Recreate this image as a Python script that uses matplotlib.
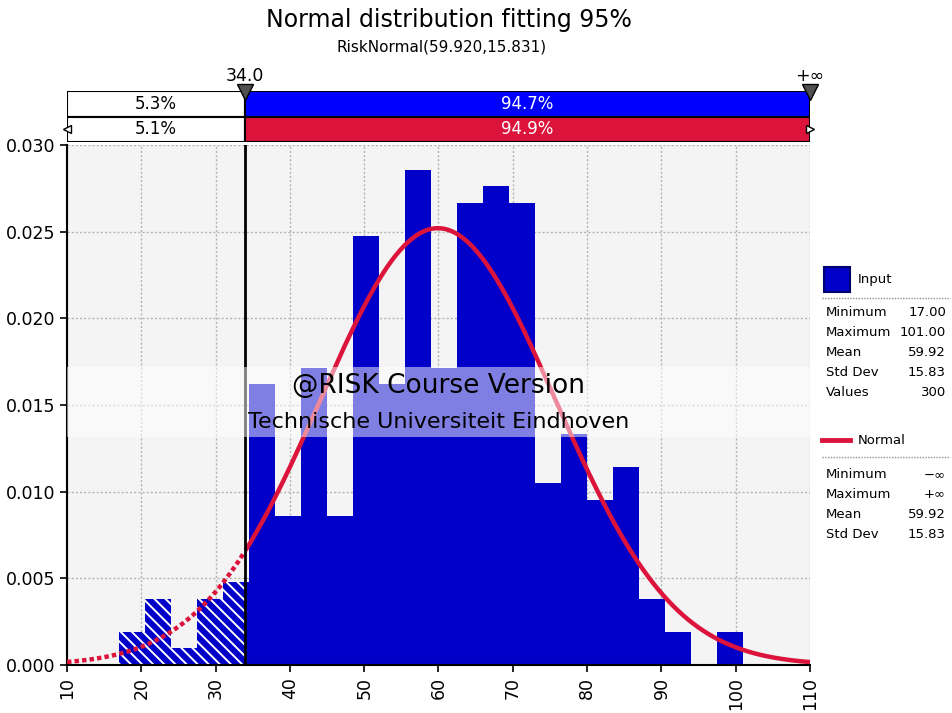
import math
import numpy as np
import matplotlib.pyplot as plt
from matplotlib.patches import Rectangle
from matplotlib.lines import Line2D

plt.rcParams['font.family'] = ['DejaVu Sans']
plt.rcParams['hatch.color'] = 'white'
plt.rcParams['hatch.linewidth'] = 1.4

# 300 input values, binned in steps of 3.5 from 17 to 101
bin_edges = np.arange(17.0, 101.0 + 0.01, 3.5)
counts = np.array([2, 4, 1, 4, 5, 17, 9, 18, 9, 26, 17, 30,
                   18, 28, 29, 28, 11, 14, 10, 12, 4, 2, 0, 2])

# fitted normal and input statistics
fit_mean = 59.920
fit_std = 15.831
input_mean = 59.92
input_std = 15.83
cutoff = 34.0

x_ticks = list(range(10, 111, 10))
y_ticks = [0.000, 0.005, 0.010, 0.015, 0.020, 0.025, 0.030]

W, H = 952, 713
BLUE = '#0000c8'
RED = '#dc143c'


def fx(px):
    return px / W


def fy(py):
    return 1 - py / H


total = counts.sum()
width = bin_edges[1] - bin_edges[0]
density = counts / (total * width)
left_input = counts[bin_edges[:-1] < cutoff].sum() / total
left_fit = 0.5 * (1 + math.erf((cutoff - fit_mean) / (fit_std * math.sqrt(2))))

fig = plt.figure(figsize=(W / 100, H / 100), dpi=100)
ax = fig.add_axes([fx(67), fy(665), fx(810) - fx(67), fy(145) - fy(665)])
ax.set_facecolor('#f4f4f4')

# histogram: hatched left of the cutoff, solid to the right
for lo, d in zip(bin_edges[:-1], density):
    hi = lo + width
    if lo < cutoff:
        ax.bar(lo, d, width=min(hi, cutoff) - lo, align='edge', color=BLUE,
               edgecolor='white', linewidth=0, hatch='\\\\\\', zorder=2)
    if hi > cutoff:
        start = max(lo, cutoff)
        ax.bar(start, d, width=hi - start, align='edge', color=BLUE,
               linewidth=0, zorder=2)

# fitted normal density
xs = np.linspace(10, 110, 600)
pdf = np.exp(-0.5 * ((xs - fit_mean) / fit_std) ** 2) / (fit_std * math.sqrt(2 * math.pi))
m = xs <= cutoff
ax.plot(xs[m], pdf[m], color=RED, lw=3.2, linestyle=(0, (1.0, 0.7)), zorder=3)
ax.plot(xs[~m], pdf[~m], color=RED, lw=3.2, zorder=3, solid_capstyle='butt')

ax.axvline(cutoff, color='black', lw=2, zorder=4)

ax.set_xlim(10, 110)
ax.set_ylim(0, 0.030)
ax.set_xticks(x_ticks)
ax.set_xticklabels([str(t) for t in x_ticks], rotation=90, fontsize=12.5)
ax.set_yticks(y_ticks)
ax.set_yticklabels([f'{t:.3f}' for t in y_ticks], fontsize=12.5)
ax.tick_params(length=5, width=1.2, color='black')
ax.grid(True, color='#b4b4b4', linestyle=(0, (1.5, 1.5)), lw=1)
ax.set_axisbelow(True)
for s in ['top', 'right']:
    ax.spines[s].set_visible(False)
for s in ['left', 'bottom']:
    ax.spines[s].set_linewidth(1.5)

# watermark band
ax.add_patch(Rectangle((0, 0.4385), 1, 0.1345, transform=ax.transAxes,
                       facecolor=(1, 1, 1, 0.5), linewidth=0, zorder=5))
ax.text(0.5, 0.536, '@RISK Course Version', transform=ax.transAxes,
        ha='center', va='center', fontsize=19, zorder=6)
ax.text(0.5, 0.468, 'Technische Universiteit Eindhoven', transform=ax.transAxes,
        ha='center', va='center', fontsize=16, zorder=6)

# probability bars above the plot
bx = fig.add_axes([fx(67), fy(142), fx(810) - fx(67), fy(91) - fy(142)])
bx.set_xlim(10, 110)
bx.set_ylim(-0.5, 1.5)
bx.axis('off')
rows = [(1, left_input, '#0000ff'), (0, left_fit, RED)]
for y, frac, c_right in rows:
    bx.barh(y, cutoff - 10, left=10, height=1, color='white', edgecolor='black', lw=1.5)
    bx.barh(y, 110 - cutoff, left=cutoff, height=1, color=c_right, edgecolor='black', lw=1.5)
    bx.text((10 + cutoff) / 2, y, f'{frac * 100:.1f}%', ha='center', va='center',
            fontsize=12, color='black')
    bx.text((cutoff + 110) / 2, y, f'{(1 - frac) * 100:.1f}%', ha='center', va='center',
            fontsize=12, color='white')
bx.plot([cutoff, 110], [1.45, 1.45], linestyle='none', marker='v', markersize=11,
        markerfacecolor='#505050', markeredgecolor='black', clip_on=False, zorder=5)
bx.plot([10], [0], marker='<', markersize=6, markerfacecolor='white',
        markeredgecolor='black', clip_on=False, zorder=5)
bx.plot([110], [0], marker='>', markersize=6, markerfacecolor='white',
        markeredgecolor='black', clip_on=False, zorder=5)
bx.text(cutoff, 1.75, f'{cutoff:.1f}', ha='center', va='bottom', fontsize=12.5)
bx.text(110, 1.75, '+∞', ha='center', va='bottom', fontsize=12.5)

# titles
fig.text(fx(449), fy(20), 'Normal distribution fitting 95%', ha='center', va='center', fontsize=17)
fig.text(fx(442), fy(47), f'RiskNormal({fit_mean:.3f},{fit_std:.3f})', ha='center',
         va='center', fontsize=11)

# legend panel
fig.patches.append(Rectangle((fx(824), fy(292)), fx(26), fy(267) - fy(292),
                             transform=fig.transFigure, facecolor=BLUE,
                             edgecolor='#000070', lw=1.5))
fig.text(fx(858), fy(280), 'Input', va='center', fontsize=9.5)
fig.lines.append(Line2D([fx(822), fx(850)], [fy(440), fy(440)], color=RED, lw=3.5,
                        transform=fig.transFigure))
fig.text(fx(858), fy(440), 'Normal', va='center', fontsize=9.5)
for yy in (298, 457):
    fig.lines.append(Line2D([fx(822), fx(950)], [fy(yy), fy(yy)], color='#909090', lw=1,
                            linestyle=(0, (1, 1)), transform=fig.transFigure))

input_stats = [('Minimum', f'{bin_edges[0]:.2f}'), ('Maximum', f'{bin_edges[-1]:.2f}'),
               ('Mean', f'{input_mean:.2f}'), ('Std Dev', f'{input_std:.2f}'),
               ('Values', f'{total}')]
normal_stats = [('Minimum', '−∞'), ('Maximum', '+∞'),
                ('Mean', f'{input_mean:.2f}'), ('Std Dev', f'{input_std:.2f}')]
for y0, stats in ((313, input_stats), (475, normal_stats)):
    for i, (name, val) in enumerate(stats):
        yy = fy(y0 + 20 * i)
        fig.text(fx(826), yy, name, va='center', fontsize=9.5)
        fig.text(fx(946), yy, val, va='center', ha='right', fontsize=9.5)

fig.savefig('out.png', dpi=100)
